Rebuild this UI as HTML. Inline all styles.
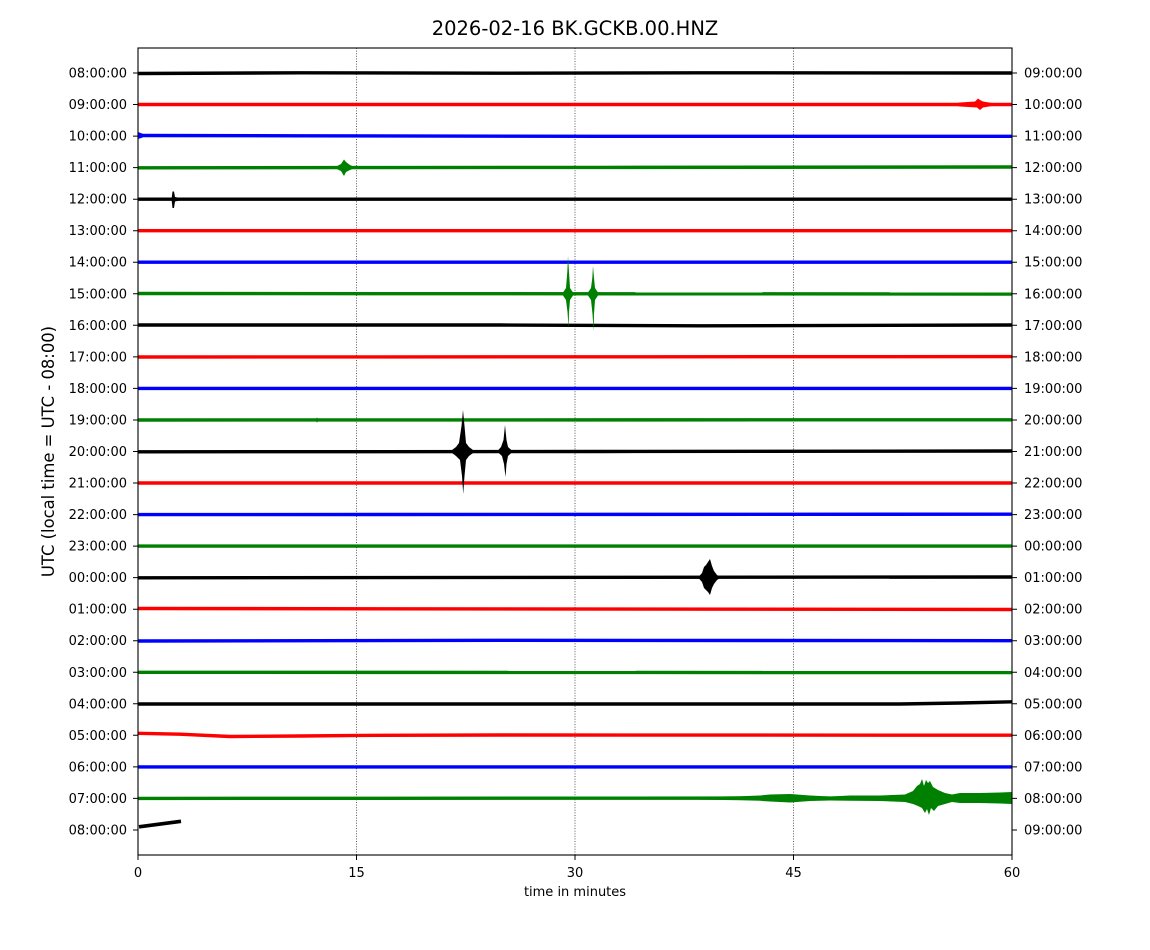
<!DOCTYPE html>
<html><head><meta charset="utf-8"><style>
html,body{margin:0;padding:0;background:#fff;}
svg{display:block;}
text{font-family:"DejaVu Sans","Liberation Sans",sans-serif;fill:#000;}
</style></head><body>
<svg width="1150" height="950" viewBox="0 0 1150 950" xmlns="http://www.w3.org/2000/svg">
<rect width="1150" height="950" fill="#fff"/>
<text x="575" y="35" font-size="19.5" text-anchor="middle">2026-02-16 BK.GCKB.00.HNZ</text>
<!-- grid -->
<g stroke="#333" stroke-width="0.8" stroke-dasharray="1,1.6">
<line x1="356.5" y1="48" x2="356.5" y2="855"/>
<line x1="575" y1="48" x2="575" y2="855"/>
<line x1="793.5" y1="48" x2="793.5" y2="855"/>
</g>
<!-- traces -->
<g stroke-width="3.4" fill="none" stroke-linecap="butt">
<polyline stroke="#000" points="138,73.5 300,72.8 500,73.2 700,72.8 1012,73"/>
<polyline stroke="#f00" points="138,104.5 1012,104.5"/>
<polyline stroke="#00f" points="138,135.5 300,135.8 600,136.3 1012,136.3"/>
<polyline stroke="#008000" points="138,167.8 340,167.6 600,167.4 1012,167"/>
<polyline stroke="#000" points="138,199.2 1012,199.2"/>
<polyline stroke="#f00" points="138,230.7 1012,230.7"/>
<polyline stroke="#00f" points="138,262.2 1012,262.2"/>
<polyline stroke="#008000" points="138,293.5 1012,294"/>
<polyline stroke="#000" points="138,325 500,325 700,325.8 1012,325"/>
<polyline stroke="#f00" points="138,357 1012,356.6"/>
<polyline stroke="#00f" points="138,388.4 1012,388.4"/>
<polyline stroke="#008000" points="138,420 1012,419.8"/>
<polyline stroke="#000" points="138,451.8 600,451.5 1012,451"/>
<polyline stroke="#f00" points="138,483 1012,483"/>
<polyline stroke="#00f" points="138,514.6 1012,514.2"/>
<polyline stroke="#008000" points="138,546.1 1012,546.1"/>
<polyline stroke="#000" points="138,577.8 1012,577"/>
<polyline stroke="#f00" points="138,608.5 1012,609.5"/>
<polyline stroke="#00f" points="138,641 500,640.3 1012,640.7"/>
<polyline stroke="#008000" points="138,672.3 1012,672.6"/>
<polyline stroke="#000" points="138,704 900,704 960,703 1012,701.8"/>
<polyline stroke="#f00" points="138,733.3 180,734.2 230,736.5 300,736 360,735.4 500,735 1012,735.2"/>
<polyline stroke="#00f" points="138,766.9 1012,766.9"/>
<polyline stroke="#008000" points="138,798.4 1012,798"/>
<polyline stroke="#000" stroke-width="3.6" points="139,826.8 181,821.3"/>
</g>
<!-- events -->
<g fill="#f00">
<polygon points="948,104.5 960,102.5 975,101.5 978,98.5 980,100 983,101.5 992,103 1000,104.5 992,106 983,107.5 980,110 977,107.5 960,106.5"/>
</g>
<g fill="#00f"><polygon points="138,132 142,133.5 146,135.5 142,137.8 138,139"/></g>
<g fill="#008000">
<polygon points="334,167.6 341,164 344,159.5 346,162 350,165 356,167.6 350,170 346,172 344,176 341,171"/>
<polygon points="562,294 566,288 567.3,272 568,256 569,272 570,288 574,294 570,300 569,312 568.6,328 567.5,312 566,300"/>
<polygon points="587,294 591,288 592.3,278 593,266 594,278 595,288 599,294 595,300 594,314 593.6,331 592.5,314 591,300"/>
<polygon points="315,420 317,417.5 319,420 317,422.5"/>
<polygon points="680,798 700,796.8 740,796.2 760,795.5 770,794.5 790,794 810,795.5 830,796.5 850,795.5 880,795.5 905,794.5 913,791 917,786 920,784 922,779 924,786 926,780 928,783 930,781 933,787 938,790 945,793 952,794.5 960,793 980,793 1000,792.5 1012,792 1012,804 1000,803.5 980,803 960,803 952,802 945,804 938,806 934,811 931,808 929,815 927,809 925,813 922,808 918,806 913,804 905,802 880,801 850,800.8 830,800.5 810,801 790,802.5 770,801.5 760,800.8 740,800.2 700,799.6"/>
</g>
<g fill="#000">
<polygon points="171.5,199.2 172.5,191.5 174,191.5 175,197 180,198 182,199.2 180,200.5 175,201.5 174,208 172.5,208"/>
<polygon points="450,451.5 456,447 459,443 461.5,426 463,410 464.5,426 466,443 469,447 475,451.5 469,456 466,460 464.5,476 463.2,494 462,476 460,460 456,456"/>
<polygon points="497,451.5 501,447 503.5,440 505,425 506.5,440 508,447 513,451.5 508,456 506.5,464 505.5,477 504,464 502,456"/>
<polygon points="698,577.5 702,573 704,567 706,565 708,562 710,559 712,566 714,571 717,575 721,577.5 717,580 714,584 712,588 710,595 708,592 706,590 704,588 702,582"/>
</g>
<!-- axes -->
<rect x="138" y="48" width="874" height="807" fill="none" stroke="#000" stroke-width="1.1"/>
<g stroke="#000" stroke-width="1">
<path d="M133,73H138M133,104.5H138M133,136.1H138M133,167.6H138M133,199.2H138M133,230.7H138M133,262.2H138M133,293.8H138M133,325.3H138M133,356.9H138M133,388.4H138M133,420H138M133,451.5H138M133,483H138M133,514.6H138M133,546.1H138M133,577.6H138M133,609.2H138M133,640.7H138M133,672.3H138M133,703.8H138M133,735.3H138M133,766.9H138M133,798.4H138M133,830H138"/>
<path d="M1012,73H1017M1012,104.5H1017M1012,136.1H1017M1012,167.6H1017M1012,199.2H1017M1012,230.7H1017M1012,262.2H1017M1012,293.8H1017M1012,325.3H1017M1012,356.9H1017M1012,388.4H1017M1012,420H1017M1012,451.5H1017M1012,483H1017M1012,514.6H1017M1012,546.1H1017M1012,577.6H1017M1012,609.2H1017M1012,640.7H1017M1012,672.3H1017M1012,703.8H1017M1012,735.3H1017M1012,766.9H1017M1012,798.4H1017M1012,830H1017"/>
<path d="M138,855V860M356.5,855V860M575,855V860M793.5,855V860M1012,855V860"/>
</g>
<g font-size="13" text-anchor="end">
<text x="127" y="77.5">08:00:00</text>
<text x="127" y="109">09:00:00</text>
<text x="127" y="140.6">10:00:00</text>
<text x="127" y="172.1">11:00:00</text>
<text x="127" y="203.7">12:00:00</text>
<text x="127" y="235.2">13:00:00</text>
<text x="127" y="266.7">14:00:00</text>
<text x="127" y="298.3">15:00:00</text>
<text x="127" y="329.8">16:00:00</text>
<text x="127" y="361.4">17:00:00</text>
<text x="127" y="392.9">18:00:00</text>
<text x="127" y="424.5">19:00:00</text>
<text x="127" y="456">20:00:00</text>
<text x="127" y="487.5">21:00:00</text>
<text x="127" y="519.1">22:00:00</text>
<text x="127" y="550.6">23:00:00</text>
<text x="127" y="582.1">00:00:00</text>
<text x="127" y="613.7">01:00:00</text>
<text x="127" y="645.2">02:00:00</text>
<text x="127" y="676.8">03:00:00</text>
<text x="127" y="708.3">04:00:00</text>
<text x="127" y="739.8">05:00:00</text>
<text x="127" y="771.4">06:00:00</text>
<text x="127" y="802.9">07:00:00</text>
<text x="127" y="834.5">08:00:00</text>
</g>
<g font-size="13" text-anchor="start">
<text x="1024" y="77.5">09:00:00</text>
<text x="1024" y="109">10:00:00</text>
<text x="1024" y="140.6">11:00:00</text>
<text x="1024" y="172.1">12:00:00</text>
<text x="1024" y="203.7">13:00:00</text>
<text x="1024" y="235.2">14:00:00</text>
<text x="1024" y="266.7">15:00:00</text>
<text x="1024" y="298.3">16:00:00</text>
<text x="1024" y="329.8">17:00:00</text>
<text x="1024" y="361.4">18:00:00</text>
<text x="1024" y="392.9">19:00:00</text>
<text x="1024" y="424.5">20:00:00</text>
<text x="1024" y="456">21:00:00</text>
<text x="1024" y="487.5">22:00:00</text>
<text x="1024" y="519.1">23:00:00</text>
<text x="1024" y="550.6">00:00:00</text>
<text x="1024" y="582.1">01:00:00</text>
<text x="1024" y="613.7">02:00:00</text>
<text x="1024" y="645.2">03:00:00</text>
<text x="1024" y="676.8">04:00:00</text>
<text x="1024" y="708.3">05:00:00</text>
<text x="1024" y="739.8">06:00:00</text>
<text x="1024" y="771.4">07:00:00</text>
<text x="1024" y="802.9">08:00:00</text>
<text x="1024" y="834.5">09:00:00</text>
</g>
<g font-size="13" text-anchor="middle">
<text x="138" y="877">0</text>
<text x="356.5" y="877">15</text>
<text x="575" y="877">30</text>
<text x="793.5" y="877">45</text>
<text x="1012" y="877">60</text>
<text x="575" y="896">time in minutes</text>
</g>
<text transform="translate(54,451.5) rotate(-90)" font-size="16.4" text-anchor="middle">UTC (local time = UTC - 08:00)</text>
</svg>
</body></html>
